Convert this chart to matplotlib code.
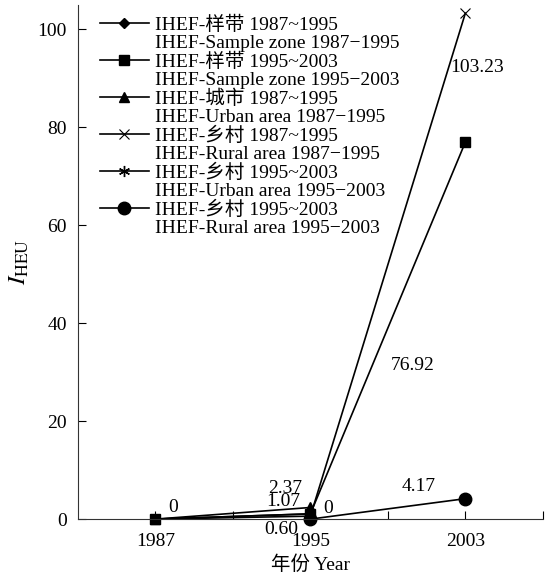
import numpy as np
import matplotlib
matplotlib.use('Agg')
import matplotlib.pyplot as plt
from matplotlib.lines import Line2D

plt.rcParams['font.family'] = ['Liberation Serif', 'Noto Sans CJK SC']
plt.rcParams['mathtext.fontset'] = 'stix'

years = [1987, 1995, 2003]
nan = np.nan
sample_8795 = [0, 1.07, nan]
sample_9503 = [0, 1.07, 76.92]
urban_8795 = [0, 2.37, nan]
rural_8795 = [0, 0.60, 103.23]
urban_9503 = [nan, 0, nan]
rural_9503 = [nan, 0, 4.17]

labels_cn = ['IHEF-样带 1987~1995', 'IHEF-样带 1995~2003', 'IHEF-城市 1987~1995',
             'IHEF-乡村 1987~1995', 'IHEF-乡村 1995~2003', 'IHEF-乡村 1995~2003']
labels_en = ['IHEF-Sample zone 1987\u22121995', 'IHEF-Sample zone 1995\u22122003',
             'IHEF-Urban area 1987\u22121995', 'IHEF-Rural area 1987\u22121995',
             'IHEF-Urban area 1995\u22122003', 'IHEF-Rural area 1995\u22122003']

# value labels: (text, x, y)
notes = [('0', 1987.9, 2.4), ('2.37', 1993.7, 6.3), ('1.07', 1993.6, 3.5),
         ('0.60', 1993.5, -2.2), ('0', 1995.9, 2.2), ('4.17', 2000.6, 6.7),
         ('76.92', 2000.3, 31.4), ('103.23', 2003.6, 92.2)]

fig = plt.figure(figsize=(5.55, 5.8), dpi=100)
ax = fig.add_axes([0.1405, 0.105, 0.8375, 0.887])

kw = dict(color='black', lw=1.2, clip_on=False)
h = []
h += ax.plot(years, sample_8795, marker='D', ms=5, **kw)
h += ax.plot(years, sample_9503, marker='s', ms=7, **kw)
h += ax.plot(years, urban_8795, marker='^', ms=7, **kw)
h += ax.plot(years, rural_8795, marker='x', ms=7, mew=0.8, **kw)
h += ax.plot(years, urban_9503, marker=(6, 2, 0), ms=8, **kw)
h += ax.plot(years, rural_9503, marker='o', ms=9, **kw)

for t, x, y in notes:
    ax.text(x, y, t, ha='center', va='center', fontsize=14)

ax.set_xlim(1983, 2007)
ax.set_ylim(0, 105)
ax.set_xticks(np.arange(1987, 2008, 4))
ax.set_xticklabels(['1987', '', '1995', '', '2003', ''])
ax.set_yticks([0, 20, 40, 60, 80, 100])
ax.tick_params(direction='in', length=6, labelsize=14, width=0.8)
ax.tick_params(axis='x', pad=10)
ax.tick_params(axis='y', pad=8)
for s in ['top', 'right']:
    ax.spines[s].set_visible(False)
for s in ['left', 'bottom']:
    ax.spines[s].set_color('#333333')

ax.set_xlabel('年份 Year', fontsize=14, labelpad=4)
ax.set_ylabel(r'$I_{\mathrm{HEU}}$', fontsize=18)
ax.yaxis.set_label_coords(-0.1, 0.5)

blank = Line2D([], [], linestyle='none', marker='none')
handles, texts = [], []
for hh, cn, en in zip(h, labels_cn, labels_en):
    handles += [hh, blank]
    texts += [cn, en]
ax.legend(handles, texts, loc='upper left', bbox_to_anchor=(0.035, 0.99), frameon=False,
          fontsize=14, handlelength=2.5, labelspacing=0.03, handletextpad=0.35,
          borderaxespad=0.1, borderpad=0.2)

fig.savefig('out.png', dpi=100)
